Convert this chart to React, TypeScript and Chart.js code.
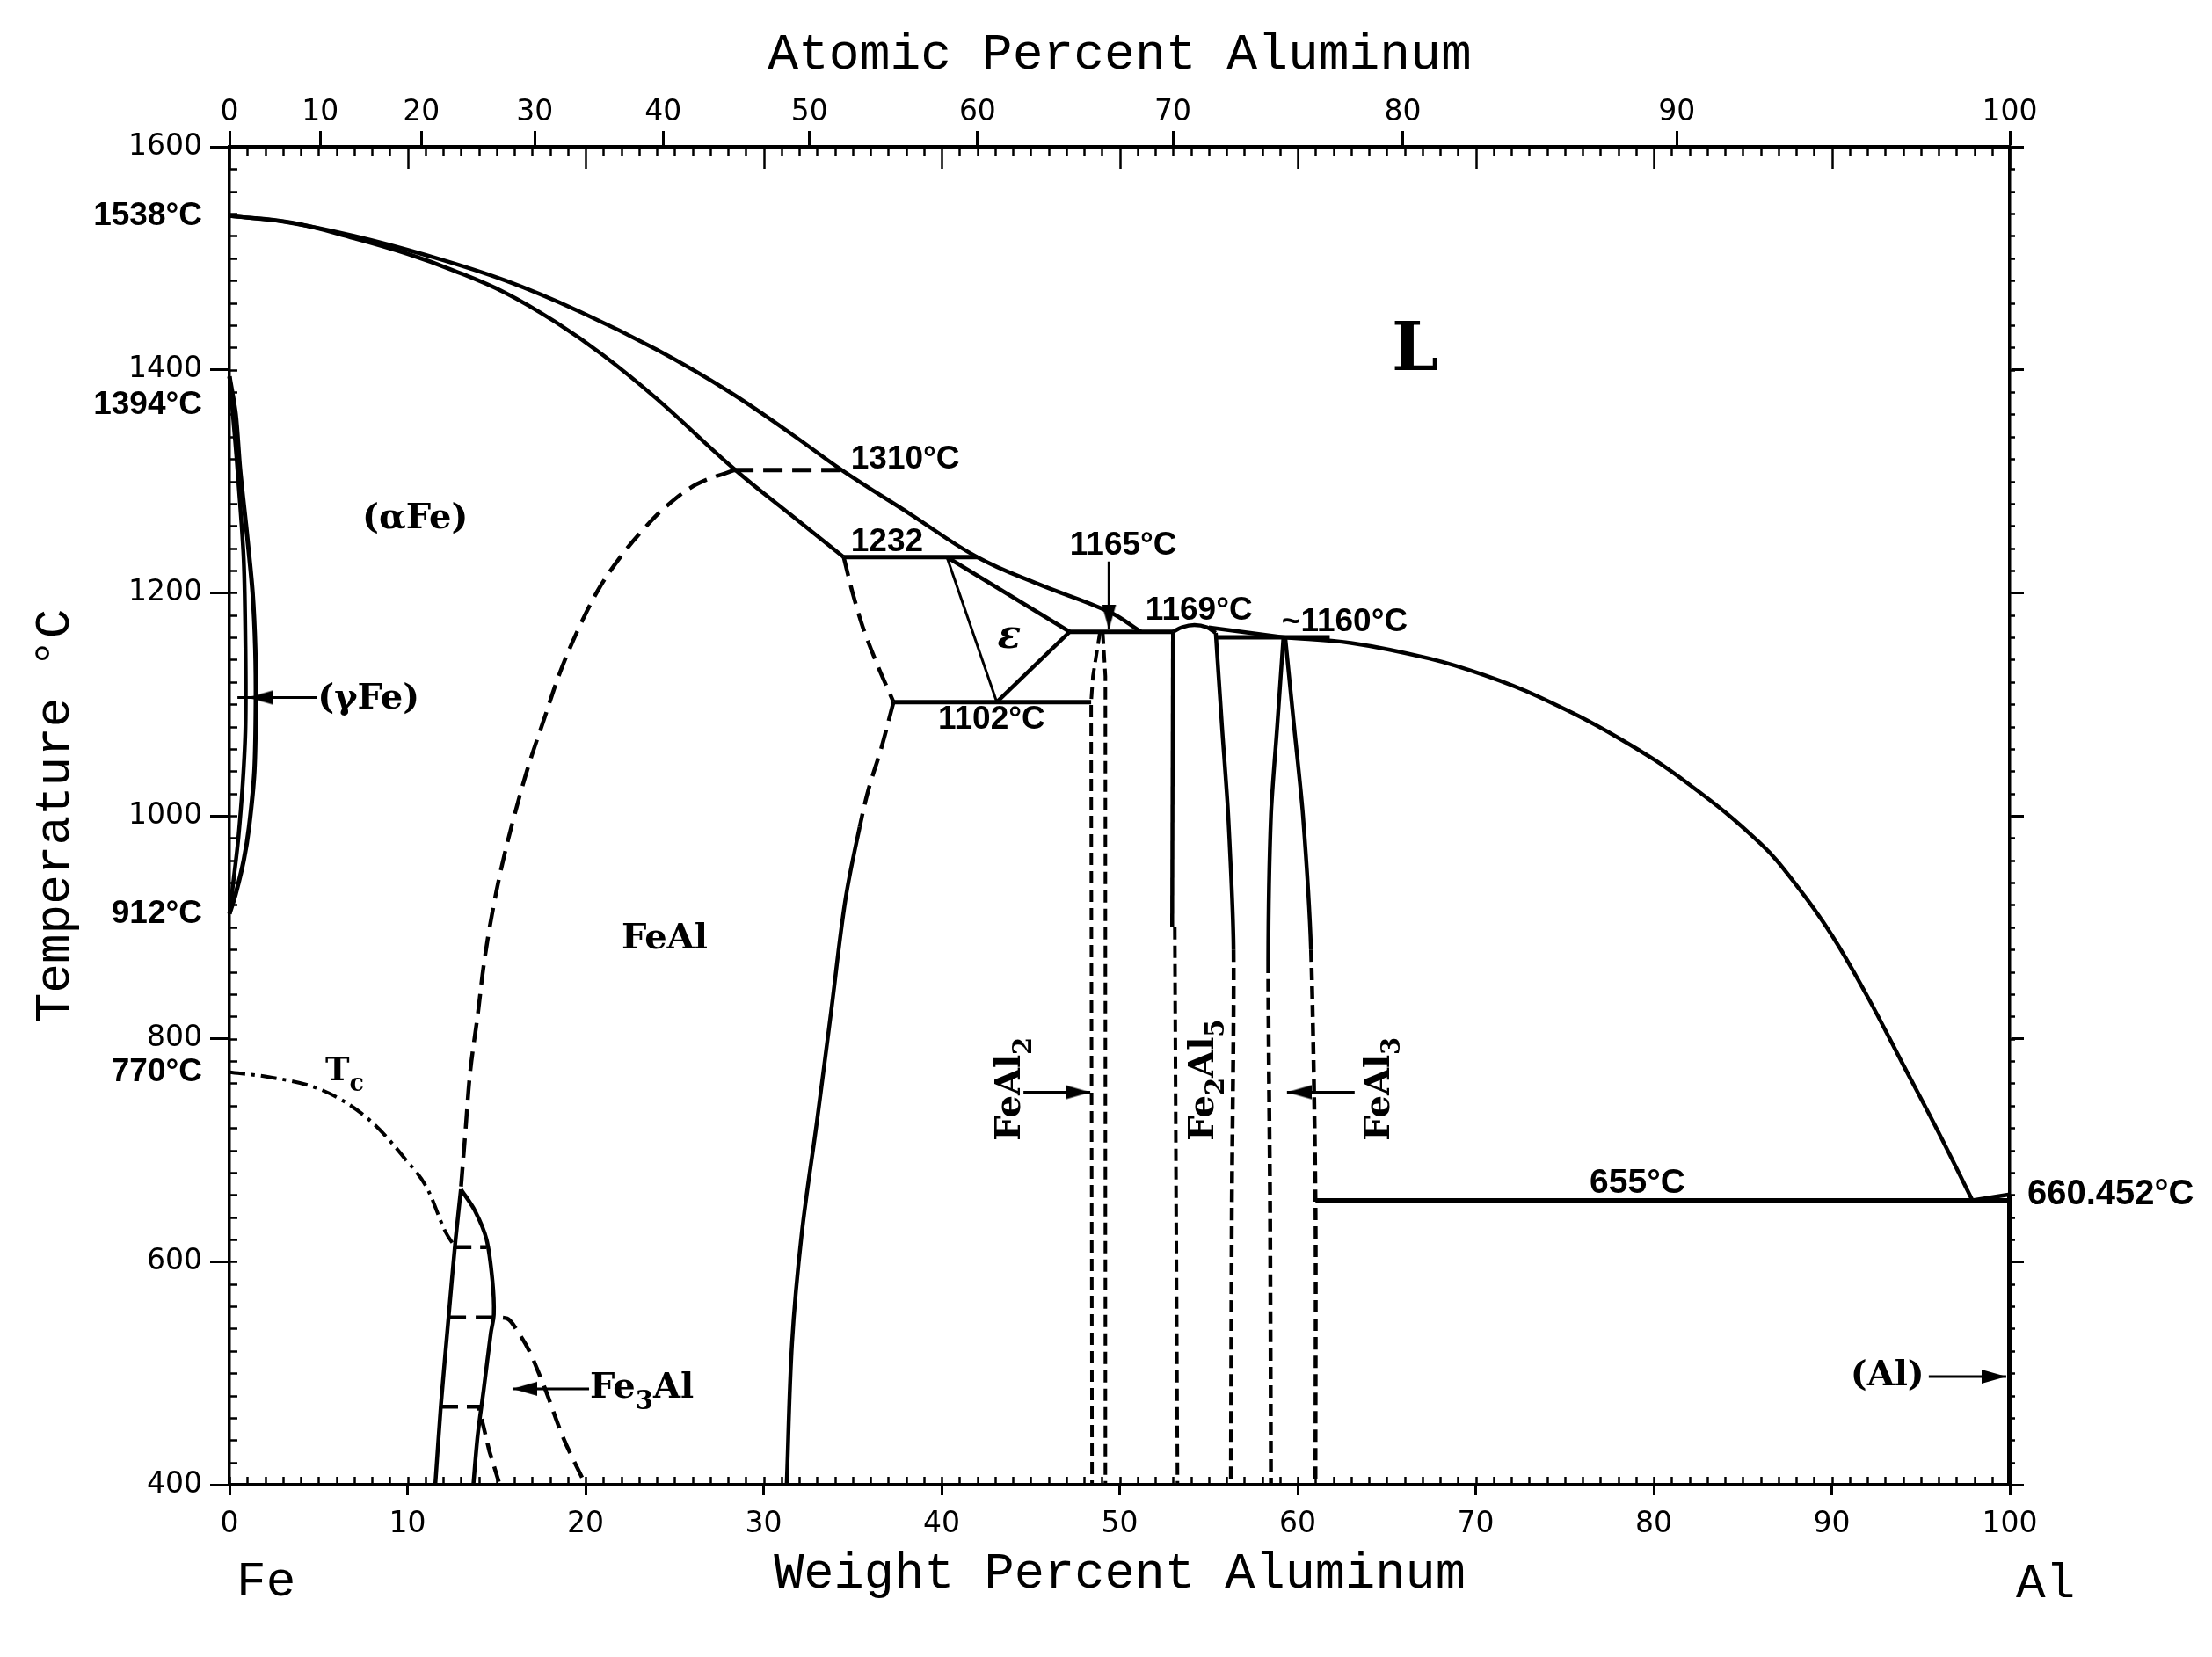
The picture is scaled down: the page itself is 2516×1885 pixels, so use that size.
import { useEffect, useRef } from 'react';
import { Chart, registerables } from 'chart.js';

Chart.register(...registerables);

type P = [number, number];

// ---------- axis data ----------
const FE_MASS = 55.845;
const AL_MASS = 26.98;
const weightTickStep = 10;
const atomicPercentTicks = [0, 10, 20, 30, 40, 50, 60, 70, 80, 90, 100];
const temperatureTicks = [400, 600, 800, 1000, 1200, 1400, 1600];
const specialTemperatures = [770, 912, 1394, 1538];
const alMeltingPoint = 660.452;

// ---------- phase boundaries (wt% Al, °C) ----------
const liquidusFe: P[] = [[0, 1538], [3, 1533], [7, 1520], [11, 1503], [15.5, 1480], [19.7, 1452], [24, 1418], [28, 1381], [31.6, 1342], [34.4, 1310], [38.2, 1271], [42, 1232], [45.4, 1208], [49.4, 1183], [51.2, 1165]];
const solidusFe: P[] = [[0, 1538], [3.5, 1532], [7, 1518], [10, 1504], [12.6, 1489], [15.5, 1469], [18.3, 1443], [21, 1413], [24, 1374], [28.35, 1311], [31.6, 1269], [34.5, 1232]];
const ordering1310: P[] = [[28.35, 1310], [34.4, 1310]];
const b2Boundary: P[] = [[28.35, 1310], [26.2, 1297], [24.5, 1277], [23.2, 1256], [22, 1233], [20.8, 1205], [19.7, 1171], [18.6, 1130], [17.7, 1088], [16.8, 1045], [16, 1000], [15.3, 955], [14.75, 912], [14.3, 868], [13.95, 822], [13.52, 770], [13.26, 718], [13.0, 666]];
const epsFeAlUpper: P[] = [[34.5, 1232], [35.0, 1200], [35.6, 1168], [36.4, 1135], [37.3, 1102]];
const feAlLowerBoundary: P[] = [[37.3, 1102], [36.6, 1060], [35.9, 1024], [35.4, 990], [34.6, 925], [33.8, 825], [33.0, 726], [32.15, 626], [31.6, 527], [31.3, 400]];
const peritectic1232: P[] = [[34.5, 1232], [42, 1232]];
const eutectoid1102: P[] = [[37.3, 1102], [48.4, 1102]];
const epsLeft: P[] = [[40.3, 1232], [43.1, 1102]];
const epsUpper: P[] = [[40.3, 1232], [47.2, 1165]];
const epsLower: P[] = [[47.2, 1165], [43.1, 1102]];
const peritectic1165: P[] = [[47.2, 1165], [53.0, 1165]];
const feal2Left: P[] = [[48.9, 1165], [48.5, 1125], [48.4, 1102], [48.45, 400]];
const feal2Right: P[] = [[49.05, 1165], [49.2, 1125], [49.2, 400]];
const fe2al5LeftSolid: P[] = [[53.0, 1165], [52.95, 900]];
const fe2al5LeftDash: P[] = [[53.1, 900], [53.25, 400]];
const fe2al5Dome: P[] = [[53.0, 1165], [53.5, 1169], [54.2, 1171], [54.9, 1169], [55.4, 1164]];
const fe2al5Right: P[] = [[55.4, 1164], [55.75, 1080], [56.1, 1000], [56.4, 880], [56.3, 650], [56.25, 400]];
const liquidusMid: P[] = [[55.0, 1169], [59.2, 1160]];
const peritectic1160: P[] = [[55.4, 1160], [61.8, 1160]];
const feal3Left: P[] = [[59.2, 1160], [58.85, 1080], [58.5, 1000], [58.35, 870], [58.45, 650], [58.5, 400]];
const feal3Right: P[] = [[59.3, 1160], [59.8, 1080], [60.3, 1000], [60.75, 880], [61.0, 655], [61.0, 400]];
const liquidusAl: P[] = [[59.2, 1160], [63, 1155], [67.4, 1141], [70.5, 1126], [73.5, 1107], [78, 1070], [82, 1028], [86, 975], [88, 938], [90, 893], [92, 838], [94, 777], [96, 716], [97.9, 655]];
const eutectic655: P[] = [[61.0, 655], [100, 655]];
const liquidusAlEnd: P[] = [[97.9, 655], [100, 660.452]];
const alSolidSolution: P[] = [[100, 660.452], [100, 400]];
const gammaOuter: P[] = [[0, 1394], [0.35, 1360], [0.6, 1310], [1.0, 1250], [1.3, 1200], [1.45, 1150], [1.48, 1100], [1.4, 1040], [1.1, 990], [0.8, 960], [0.35, 930], [0, 912]];
const gammaInner: P[] = [[0, 1394], [0.3, 1340], [0.5, 1300], [0.8, 1230], [0.9, 1150], [0.9, 1080], [0.75, 1030], [0.5, 980], [0.25, 945], [0, 912]];
const fe3alLeft: P[] = [[13.0, 665], [12.7, 620], [12.3, 549], [11.88, 472], [11.56, 400]];
const fe3alRight: P[] = [[13.0, 665], [13.78, 646], [14.44, 620], [14.77, 583], [14.85, 553], [14.68, 536], [14.27, 484], [13.94, 444], [13.7, 400]];
const fe3alDash613: P[] = [[12.7, 613], [14.44, 613]];
const d03Boundary: P[] = [[12.3, 550], [15.0, 550], [15.6, 549], [16.25, 536], [16.9, 518], [17.4, 499], [17.73, 486], [18.7, 444], [20.0, 400]];
const fe3alDash470: P[] = [[11.95, 470], [14.0, 470], [14.6, 430], [15.18, 400]];
const curieLine: P[] = [[0, 770], [2.07, 766], [4.68, 757], [6.42, 744], [8.15, 723], [9.88, 692], [11.1, 666], [12.13, 627], [12.6, 615]];

// ---------- arrows: tail, tip, optional end ----------
const arrows: { from: P; tip: P; end?: P }[] = [
  { from: [4.9, 1106], tip: [1.05, 1106], end: [0.45, 1106] },
  { from: [20.2, 486], tip: [15.9, 486] },
  { from: [44.6, 752], tip: [48.35, 752] },
  { from: [63.2, 752], tip: [59.4, 752] },
  { from: [95.45, 497], tip: [99.8, 497] },
  { from: [49.4, 1228], tip: [49.4, 1167] },
];

// ---------- text annotations ----------
type Kind = 'phase' | 'big' | 'temp' | 'tempL' | 'eps' | 'corner' | 'tc';
const notes: { text: string; x: number; y: number; kind: Kind; align: 'left' | 'center' | 'right'; rot?: number }[] = [
  { text: 'L', x: 66.6, y: 1415, kind: 'big', align: 'center' },
  { text: '(αFe)', x: 10.43, y: 1266, kind: 'phase', align: 'center' },
  { text: '(γFe)', x: 4.95, y: 1104, kind: 'phase', align: 'left' },
  { text: 'FeAl', x: 24.44, y: 889, kind: 'phase', align: 'center' },
  { text: 'ε', x: 43.8, y: 1160, kind: 'eps', align: 'center' },
  { text: 'Fe_3Al', x: 20.25, y: 486, kind: 'phase', align: 'left' },
  { text: 'FeAl_2', x: 43.9, y: 755, kind: 'phase', align: 'center', rot: -90 },
  { text: 'Fe_2Al_5', x: 54.75, y: 763, kind: 'phase', align: 'center', rot: -90 },
  { text: 'FeAl_3', x: 64.6, y: 755, kind: 'phase', align: 'center', rot: -90 },
  { text: '(Al)', x: 95.2, y: 497, kind: 'phase', align: 'right' },
  { text: 'T_c', x: 5.38, y: 770, kind: 'tc', align: 'left' },
  { text: '1310°C', x: 34.9, y: 1319.5, kind: 'temp', align: 'left' },
  { text: '1232', x: 34.9, y: 1245, kind: 'temp', align: 'left' },
  { text: '1165°C', x: 47.2, y: 1242.5, kind: 'temp', align: 'left' },
  { text: '1169°C', x: 51.45, y: 1184, kind: 'temp', align: 'left' },
  { text: '~1160°C', x: 59.1, y: 1174, kind: 'temp', align: 'left' },
  { text: '1102°C', x: 39.8, y: 1086, kind: 'temp', align: 'left' },
  { text: '655°C', x: 76.4, y: 670, kind: 'tempL', align: 'left' },
  { text: 'Fe', x: 0.4, y: 312, kind: 'corner', align: 'left' },
  { text: 'Al', x: 100.35, y: 311, kind: 'corner', align: 'left' },
];

const fonts: Record<Kind, { family: string; size: number; weight: string; style: string }> = {
  phase: { family: "'DejaVu Serif'", size: 40, weight: 'bold', style: 'normal' },
  big: { family: "'DejaVu Serif'", size: 76, weight: 'bold', style: 'normal' },
  temp: { family: "'Liberation Sans'", size: 37, weight: 'bold', style: 'normal' },
  tempL: { family: "'Liberation Sans'", size: 39, weight: 'bold', style: 'normal' },
  eps: { family: "'DejaVu Serif'", size: 44, weight: 'bold', style: 'italic' },
  corner: { family: "'Liberation Mono'", size: 56, weight: 'normal', style: 'normal' },
  tc: { family: "'DejaVu Serif'", size: 37, weight: 'bold', style: 'normal' },
};

const atToWt = (a: number) => (100 * a * AL_MASS) / (a * AL_MASS + (100 - a) * FE_MASS);

function parseSegs(text: string) {
  const segs: { t: string; sub: boolean }[] = [];
  const re = /_(\w)/g;
  let last = 0;
  let m: RegExpExecArray | null;
  while ((m = re.exec(text))) {
    if (m.index > last) segs.push({ t: text.slice(last, m.index), sub: false });
    segs.push({ t: m[1], sub: true });
    last = m.index + m[0].length;
  }
  if (last < text.length) segs.push({ t: text.slice(last), sub: false });
  return segs;
}

const notesPlugin = {
  id: 'notes',
  afterDatasetsDraw(chart: any) {
    const ctx: CanvasRenderingContext2D = chart.ctx;
    const xs = chart.scales.x;
    const ys = chart.scales.y;
    for (const n of notes) {
      const f = fonts[n.kind];
      const px = xs.getPixelForValue(n.x);
      const py = ys.getPixelForValue(n.y);
      const main = `${f.style} ${f.weight} ${f.size}px ${f.family}`;
      const sub = `${f.style} ${f.weight} ${Math.round(f.size * 0.72)}px ${f.family}`;
      const segs = parseSegs(n.text);
      ctx.save();
      ctx.translate(px, py);
      if (n.rot) ctx.rotate((n.rot * Math.PI) / 180);
      let total = 0;
      const widths = segs.map((s) => {
        ctx.font = s.sub ? sub : main;
        const w = ctx.measureText(s.t).width;
        total += w;
        return w;
      });
      let cx = n.align === 'left' ? 0 : n.align === 'right' ? -total : -total / 2;
      ctx.fillStyle = '#000';
      ctx.textAlign = 'left';
      ctx.textBaseline = 'middle';
      segs.forEach((s, i) => {
        ctx.font = s.sub ? sub : main;
        ctx.fillText(s.t, cx, s.sub ? f.size * 0.38 : 0);
        cx += widths[i];
      });
      ctx.restore();
    }
  },
};

const minorTicksPlugin = {
  id: 'minorTicks',
  afterDraw(chart: any) {
    const { ctx, chartArea: a } = chart;
    const xs = chart.scales.x;
    const ys = chart.scales.y;
    ctx.save();
    ctx.strokeStyle = '#000';
    ctx.lineWidth = 2.5;
    ctx.beginPath();
    for (let v = 0; v <= 100; v++) {
      const px = Math.round(xs.getPixelForValue(v)) + 0.5;
      ctx.moveTo(px, a.bottom);
      ctx.lineTo(px, a.bottom - 9);
      ctx.moveTo(px, a.top);
      ctx.lineTo(px, a.top + (v % 10 === 0 ? 25 : 10));
    }
    for (let t = 400; t <= 1600; t += 20) {
      const py = Math.round(ys.getPixelForValue(t)) + 0.5;
      ctx.moveTo(a.left, py);
      ctx.lineTo(a.left + 9, py);
      ctx.moveTo(a.right, py);
      ctx.lineTo(a.right + 6, py);
    }
    ctx.stroke();
    ctx.restore();
  },
};

const W = 2516;
const H = 1885;

export default function App() {
  const ref = useRef<HTMLCanvasElement>(null);

  useEffect(() => {
    const canvas = ref.current!;
    const head = document.createElement('canvas');
    head.width = 56;
    head.height = 18;
    const hc = head.getContext('2d')!;
    hc.fillStyle = '#000';
    hc.beginPath();
    hc.moveTo(28, 9);
    hc.lineTo(0, 1);
    hc.lineTo(0, 17);
    hc.closePath();
    hc.fill();

    const mk = (pts: P[], opts: any = {}) => ({
      data: pts.map(([x, y]) => ({ x, y })),
      showLine: true,
      borderColor: '#000',
      backgroundColor: '#000',
      borderWidth: 4.5,
      pointRadius: 0,
      pointHoverRadius: 0,
      tension: 0,
      clip: false,
      ...opts,
    });
    const dash = [22, 11];
    const vdash = [14, 7];
    const dashUntil = (n: number, d: number[]) => ({ segment: { borderDash: (c: any) => (c.p0DataIndex < n ? d : undefined) } });
    const dashFrom = (n: number, d: number[]) => ({ segment: { borderDash: (c: any) => (c.p0DataIndex >= n ? d : undefined) } });
    const mono = { cubicInterpolationMode: 'monotone' };

    const datasets: any[] = [
      mk(liquidusFe, { tension: 0.4 }),
      mk(solidusFe, { tension: 0.4 }),
      mk(ordering1310, { borderDash: dash, borderWidth: 5 }),
      mk(b2Boundary, { borderDash: dash, tension: 0.35 }),
      mk(epsFeAlUpper, { borderDash: dash, tension: 0.3 }),
      mk(feAlLowerBoundary, { tension: 0.35, ...dashUntil(3, dash) }),
      mk(peritectic1232, { borderWidth: 5 }),
      mk(eutectoid1102, { borderWidth: 5 }),
      mk(epsLeft, { borderWidth: 3 }),
      mk(epsUpper, { borderWidth: 4.5 }),
      mk(epsLower, { borderWidth: 4.5 }),
      mk(peritectic1165, { borderWidth: 5 }),
      mk(feal2Left, { borderDash: vdash, borderWidth: 4 }),
      mk(feal2Right, { borderDash: vdash, borderWidth: 4 }),
      mk(fe2al5LeftSolid),
      mk(fe2al5LeftDash, { borderDash: vdash, borderWidth: 4 }),
      mk(fe2al5Dome, { tension: 0.3 }),
      mk(fe2al5Right, { tension: 0.25, ...dashFrom(3, vdash) }),
      mk(liquidusMid),
      mk(peritectic1160, { borderWidth: 5 }),
      mk(feal3Left, { tension: 0.25, ...dashFrom(3, vdash) }),
      mk(feal3Right, { tension: 0.25, ...dashFrom(3, vdash) }),
      mk(liquidusAl, { tension: 0.4 }),
      mk(eutectic655, { borderWidth: 5 }),
      mk(liquidusAlEnd),
      mk(alSolidSolution, { borderWidth: 6 }),
      mk(gammaOuter, { tension: 0.3, borderWidth: 5 }),
      mk(gammaInner, { tension: 0.3, borderWidth: 4.5 }),
      mk(fe3alLeft, { tension: 0.2 }),
      mk(fe3alRight, { tension: 0.3 }),
      mk(fe3alDash613, { borderDash: [18, 10] }),
      mk(d03Boundary, { borderDash: [20, 11], ...mono }),
      mk(fe3alDash470, { borderDash: [18, 10] }),
      mk(curieLine, { borderDash: [18, 7, 4, 7], borderWidth: 4, ...mono }),
    ];

    for (const a of arrows) {
      const pts: P[] = a.end ? [a.from, a.tip, a.end] : [a.from, a.tip];
      const dx = a.tip[0] - a.from[0];
      const dy = a.tip[1] - a.from[1];
      const rot = Math.abs(dx) > 1e-9 ? (dx > 0 ? 0 : 180) : dy < 0 ? 90 : -90;
      datasets.push(
        mk(pts, {
          borderWidth: 3,
          pointRadius: pts.map((_, i) => (i === 1 ? 4 : 0)),
          pointStyle: head,
          pointRotation: rot,
        }),
      );
    }

    const yTickValues = [...temperatureTicks, ...specialTemperatures].sort((p, q) => p - q);
    const y2TickValues = [...temperatureTicks, alMeltingPoint].sort((p, q) => p - q);
    const numFont = { family: "'DejaVu Sans'", size: 33 };
    const titleFont = { family: "'Liberation Mono'", size: 58 };

    const chart = new Chart(canvas, {
      type: 'scatter',
      data: { datasets },
      options: {
        animation: false,
        responsive: false,
        events: [],
        layout: { padding: 0 },
        plugins: { legend: { display: false }, tooltip: { enabled: false } },
        scales: {
          x: {
            type: 'linear',
            position: 'bottom',
            min: 0,
            max: 100,
            ticks: { stepSize: weightTickStep, autoSkip: false, maxRotation: 0, color: '#000', font: numFont, padding: 14 },
            grid: { drawOnChartArea: false, tickLength: 12, tickWidth: 3, tickColor: '#000' },
            border: { display: true, color: '#000', width: 4 },
            title: { display: true, text: 'Weight Percent Aluminum', color: '#000', font: { ...titleFont, size: 57 }, padding: { top: 0, bottom: 60 } },
            afterFit: (s: any) => { s.height = H - 1689; },
          },
          x2: {
            type: 'linear',
            axis: 'x',
            position: 'top',
            min: 0,
            max: 100,
            afterBuildTicks: (s: any) => { s.ticks = atomicPercentTicks.map((a) => ({ value: atToWt(a) })); },
            ticks: { autoSkip: false, maxRotation: 0, color: '#000', font: numFont, padding: 1, callback: (_v: any, i: number) => String(atomicPercentTicks[i]) },
            grid: { drawOnChartArea: false, tickLength: 18, tickWidth: 3, tickColor: '#000' },
            border: { display: true, color: '#000', width: 4 },
            title: { display: true, text: 'Atomic Percent Aluminum', color: '#000', font: titleFont, padding: { top: 28, bottom: 0 } },
            afterFit: (s: any) => { s.height = 167; },
          },
          y: {
            type: 'linear',
            position: 'left',
            min: 400,
            max: 1600,
            afterBuildTicks: (s: any) => { s.ticks = yTickValues.map((v) => ({ value: v })); },
            ticks: {
              autoSkip: false,
              color: '#000',
              padding: 9,
              callback: (v: any) => {
                if (!specialTemperatures.includes(v)) return String(v);
                return v === 1394 ? ['', `${v}°C`] : `${v}°C`;
              },
              font: (c: any) => {
                const v = c.tick ? c.tick.value : 0;
                if (specialTemperatures.includes(v)) {
                  return { family: "'Liberation Sans'", size: 37, weight: 'bold', lineHeight: v === 1394 ? 1.75 : 1.2 };
                }
                return numFont;
              },
            },
            grid: {
              drawOnChartArea: false,
              tickLength: 22,
              tickWidth: 3,
              tickColor: (c: any) => (c.tick && specialTemperatures.includes(c.tick.value) ? 'rgba(0,0,0,0)' : '#000'),
            },
            border: { display: true, color: '#000', width: 3.5 },
            title: { display: true, text: 'Temperature °C', color: '#000', font: { ...titleFont, size: 56 }, padding: { top: 30, bottom: 0 } },
            afterFit: (s: any) => { s.width = 261; },
          },
          y2: {
            type: 'linear',
            axis: 'y',
            position: 'right',
            min: 400,
            max: 1600,
            afterBuildTicks: (s: any) => { s.ticks = y2TickValues.map((v) => ({ value: v })); },
            ticks: {
              autoSkip: false,
              color: '#000',
              padding: 4,
              font: { family: "'Liberation Sans'", size: 40, weight: 'bold' },
              callback: (v: any) => (v === alMeltingPoint ? `${v}°C` : ''),
            },
            grid: {
              drawOnChartArea: false,
              tickLength: 16,
              tickWidth: 3,
              tickColor: (c: any) => (c.tick && c.tick.value === alMeltingPoint ? 'rgba(0,0,0,0)' : '#000'),
            },
            border: { display: true, color: '#000', width: 3.5 },
            afterFit: (s: any) => { s.width = W - 2286; },
          },
        },
      } as any,
      plugins: [minorTicksPlugin, notesPlugin],
    });

    return () => chart.destroy();
  }, []);

  return (
    <div style={{ position: 'absolute', left: 0, top: 0, width: W, height: H, background: '#fff' }}>
      <canvas ref={ref} width={W} height={H} style={{ display: 'block', width: W, height: H }} />
    </div>
  );
}
